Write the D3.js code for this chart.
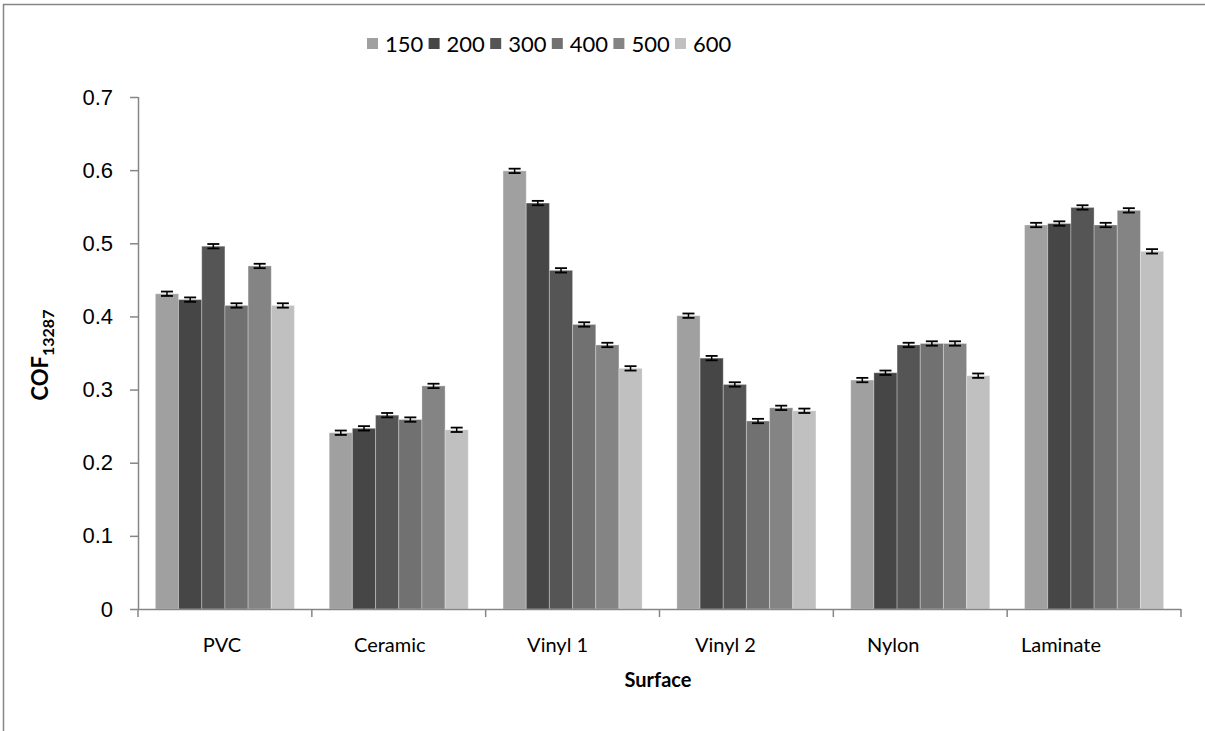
<!DOCTYPE html>
<html>
<head>
<meta charset="utf-8">
<script src="https://cdn.jsdelivr.net/npm/d3@7"></script>
<style>
  html, body { margin: 0; padding: 0; background: #fff; }
  svg { display: block; font-family: Lato, "Open Sans", "Liberation Sans", sans-serif; }
</style>
</head>
<body>
<svg id="chart" width="1205" height="731"></svg>
<script>
// Surfaces tested and the load settings compared on each
const surfaces = ["PVC", "Ceramic", "Vinyl 1", "Vinyl 2", "Nylon", "Laminate"];
const loads = ["150", "200", "300", "400", "500", "600"];

// Mean coefficient of friction per load (one array per load, ordered as surfaces)
const cof150 = [0.431, 0.241, 0.599, 0.401, 0.313, 0.525];
const cof200 = [0.423, 0.247, 0.555, 0.343, 0.323, 0.527];
const cof300 = [0.496, 0.265, 0.463, 0.307, 0.361, 0.549];
const cof400 = [0.415, 0.259, 0.389, 0.257, 0.363, 0.525];
const cof500 = [0.469, 0.305, 0.361, 0.275, 0.363, 0.545];
const cof600 = [0.415, 0.245, 0.329, 0.271, 0.319, 0.489];

// Standard error shown by the whiskers
const errBar = [0.003, 0.003, 0.003, 0.003, 0.003, 0.003];

const yTicks = [0, 0.1, 0.2, 0.3, 0.4, 0.5, 0.6, 0.7];
const loadColors = ["#a0a0a0", "#464646", "#555555", "#717171", "#848484", "#c0c0c0"];

const series = [cof150, cof200, cof300, cof400, cof500, cof600];

const svg = d3.select("#chart");
const axisColor = "#868686";

// Outer chart frame
svg.append("path")
  .attr("d", "M3.5,731 V4.5 H1205")
  .attr("fill", "none")
  .attr("stroke", axisColor)
  .attr("stroke-width", 1.5);

const plot = { left: 138, right: 1181, top: 97, bottom: 609 };

const x0 = d3.scaleBand().domain(surfaces).range([plot.left, plot.right]).paddingInner(0.2).paddingOuter(0.1);
const x1 = d3.scaleBand().domain(loads).range([0, x0.bandwidth()]);
const y = d3.scaleLinear().domain([0, 0.7]).range([plot.bottom, plot.top]);
const color = d3.scaleOrdinal().domain(loads).range(loadColors);
// Category captions sit on a slightly tighter spacing than the bar groups
const xLabel = d3.scalePoint().domain(surfaces).range([222, 1061]);

// Bars
const groups = svg.append("g").selectAll("g")
  .data(surfaces)
  .join("g")
  .attr("transform", s => `translate(${x0(s)},0)`);

const cells = groups.selectAll("g.cell")
  .data((s, i) => loads.map((l, j) => ({ load: l, value: series[j][i], err: errBar[j] })))
  .join("g").attr("class", "cell");

cells.append("rect")
  .attr("x", d => x1(d.load))
  .attr("y", d => y(d.value))
  .attr("width", x1.bandwidth())
  .attr("height", d => y(0) - y(d.value))
  .attr("fill", d => color(d.load))
  .attr("stroke", "rgba(255,255,255,0.3)")
  .attr("stroke-width", 1);

// Error whiskers
const capHalf = 6;
cells.each(function (d) {
  const g = d3.select(this);
  const cx = x1(d.load) + x1.bandwidth() / 2;
  const yHi = y(d.value + d.err), yLo = y(d.value - d.err);
  g.append("line").attr("x1", cx).attr("x2", cx).attr("y1", yHi).attr("y2", yLo)
    .attr("stroke", "#000").attr("stroke-width", 1.5);
  [yHi, yLo].forEach(yy => g.append("line")
    .attr("x1", cx - capHalf).attr("x2", cx + capHalf).attr("y1", yy).attr("y2", yy)
    .attr("stroke", "#000").attr("stroke-width", 1.8));
});

// Y axis
const yAxis = svg.append("g")
  .attr("transform", `translate(${plot.left},0)`)
  .call(d3.axisLeft(y).tickValues(yTicks).tickSize(8).tickPadding(17)
    .tickFormat(d => d === 0 ? "0" : d3.format(".1f")(d)));
yAxis.select(".domain").attr("stroke", axisColor).attr("stroke-width", 1.5)
  .attr("d", `M0.5,${plot.top}V${plot.bottom}`);
yAxis.selectAll(".tick line").attr("stroke", axisColor).attr("stroke-width", 1.5);
yAxis.selectAll(".tick text").attr("fill", "#000").style("font-size", "22px");

// X axis with boundary ticks between categories
const xAxisG = svg.append("g").attr("transform", `translate(0,${plot.bottom})`);
xAxisG.append("line")
  .attr("x1", plot.left).attr("x2", plot.right).attr("y1", 0.5).attr("y2", 0.5)
  .attr("stroke", axisColor).attr("stroke-width", 1.5);
const boundaries = d3.range(surfaces.length + 1).map(i => plot.left + i * (plot.right - plot.left) / surfaces.length);
xAxisG.selectAll("line.tk").data(boundaries).join("line").attr("class", "tk")
  .attr("x1", d => d).attr("x2", d => d).attr("y1", 0).attr("y2", 8)
  .attr("stroke", axisColor).attr("stroke-width", 1.5);
xAxisG.selectAll("text").data(surfaces).join("text")
  .attr("x", s => xLabel(s))
  .attr("y", 43)
  .attr("text-anchor", "middle")
  .style("font-size", "20px")
  .attr("fill", "#000")
  .text(s => s);

// Axis titles
svg.append("text")
  .attr("x", 658).attr("y", 687)
  .attr("text-anchor", "middle")
  .style("font-size", "20px").style("font-weight", "bold")
  .text("Surface");

const yTitle = svg.append("text")
  .attr("transform", "translate(48,355) rotate(-90)")
  .attr("text-anchor", "middle")
  .style("font-size", "22px").style("font-weight", "bold");
yTitle.append("tspan").text("COF");
yTitle.append("tspan").attr("dy", 6).style("font-size", "16px").text("13287");

// Legend
const legend = svg.append("g").attr("transform", "translate(367,38)");
const item = legend.selectAll("g").data(loads).join("g")
  .attr("transform", (d, i) => `translate(${i * 61.6},0)`);
item.append("rect").attr("width", 11).attr("height", 11).attr("fill", d => color(d));
item.append("text").attr("x", 18).attr("y", 13.5)
  .style("font-size", "22px").attr("fill", "#000").text(d => d);
</script>
</body>
</html>
